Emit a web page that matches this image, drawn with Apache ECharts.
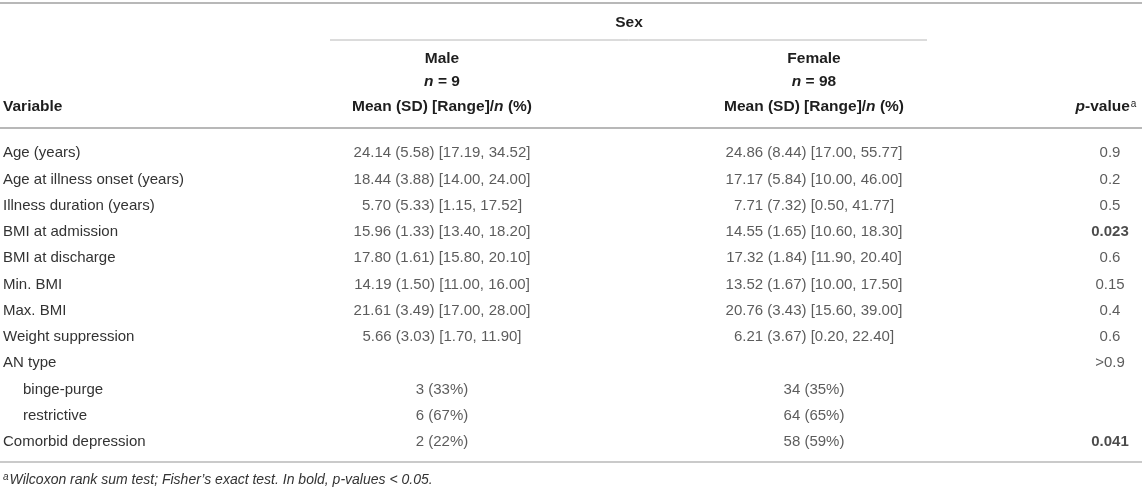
<!DOCTYPE html>
<html>
<head>
<meta charset="utf-8">
<script src="https://cdn.jsdelivr.net/npm/echarts@6/dist/echarts.min.js"></script>
<style>
  html, body { margin: 0; padding: 0; background: #fff; }
  #chart { width: 1142px; height: 490px; }
</style>
</head>
<body>
<div id="chart"></div>
<script>
// table content
const variables = [
    "Age (years)", "Age at illness onset (years)", "Illness duration (years)",
    "BMI at admission", "BMI at discharge", "Min. BMI", "Max. BMI",
    "Weight suppression", "AN type", "binge-purge", "restrictive",
    "Comorbid depression"
];
const subRows = ["binge-purge", "restrictive"];
const maleVals = [
    "24.14 (5.58) [17.19, 34.52]", "18.44 (3.88) [14.00, 24.00]", "5.70 (5.33) [1.15, 17.52]",
    "15.96 (1.33) [13.40, 18.20]", "17.80 (1.61) [15.80, 20.10]", "14.19 (1.50) [11.00, 16.00]",
    "21.61 (3.49) [17.00, 28.00]", "5.66 (3.03) [1.70, 11.90]", "", "3 (33%)", "6 (67%)", "2 (22%)"
];
const femaleVals = [
    "24.86 (8.44) [17.00, 55.77]", "17.17 (5.84) [10.00, 46.00]", "7.71 (7.32) [0.50, 41.77]",
    "14.55 (1.65) [10.60, 18.30]", "17.32 (1.84) [11.90, 20.40]", "13.52 (1.67) [10.00, 17.50]",
    "20.76 (3.43) [15.60, 39.00]", "6.21 (3.67) [0.20, 22.40]", "", "34 (35%)", "64 (65%)", "58 (59%)"
];
const pVals = ["0.9", "0.2", "0.5", "0.023", "0.6", "0.15", "0.4", "0.6", ">0.9", "", "", "0.041"];
const groupLabels = ["Male", "Female"];
const groupN = [9, 98];
const footnote = "Wilcoxon rank sum test; Fisher\u2019s exact test. In bold, p-values < 0.05.";

const FONT = "'Liberation Sans', Arial, Helvetica, sans-serif";
const TXT = "#333";
const HEAD = "#1e1e1e";
const RULE = "#b8b8b8";
const COL_X = { male: 442, female: 814, p: 1110 };
const HEAD_SIZE = 15.5;

const textSeries = (name, vals, x, boldFn) => ({
    name: name,
    type: "scatter",
    symbol: "circle",
    symbolSize: 1,
    silent: true,
    itemStyle: { color: "rgba(0,0,0,0)" },
    emphasis: { disabled: true },
    data: vals.map((v, i) => v === "" ? null : {
        value: [x, i],
        label: {
            formatter: v,
            fontWeight: boldFn && boldFn(v) ? "bold" : "normal",
            color: boldFn && boldFn(v) ? HEAD : TXT
        }
    }).filter(d => d),
    label: {
        show: true,
        position: "inside",
        fontFamily: FONT,
        fontSize: 15,
        color: TXT
    }
});

const headText = (x, y, text, align, rich) => ({
    type: "text",
    x: x,
    y: y,
    style: {
        text: text,
        align: align,
        verticalAlign: "middle",
        fontFamily: FONT,
        fontSize: HEAD_SIZE,
        fontWeight: "bold",
        fill: HEAD,
        rich: rich
    }
});

const hRule = (x1, x2, y, w) => ({
    type: "line",
    shape: { x1: x1, y1: y, x2: x2, y2: y },
    style: { stroke: RULE, lineWidth: w }
});

const boldRich = {
    i: { fontFamily: FONT, fontSize: HEAD_SIZE, fontWeight: "bold", fontStyle: "italic", fill: HEAD },
    b: { fontFamily: FONT, fontSize: HEAD_SIZE, fontWeight: "bold", fill: HEAD },
    sup: { fontFamily: FONT, fontSize: 10, fontWeight: "normal", fill: HEAD, verticalAlign: "top", padding: [0, 0, 6, 1] }
};

const chart = echarts.init(document.getElementById("chart"));
chart.setOption({
    animation: false,
    backgroundColor: "#fff",
    grid: { left: 0, right: 0, top: 140, bottom: 35, containLabel: false },
    xAxis: { type: "value", min: 0, max: 1142, show: false },
    yAxis: {
        type: "category",
        inverse: true,
        data: variables,
        axisLine: { show: false },
        axisTick: { show: false },
        splitLine: { show: false },
        axisLabel: {
            inside: true,
            margin: 3,
            align: "left",
            fontFamily: FONT,
            fontSize: 15,
            color: TXT,
            formatter: v => subRows.includes(v) ? "{sub|" + v + "}" : v,
            rich: { sub: { fontFamily: FONT, fontSize: 15, color: TXT, padding: [0, 0, 0, 20] } }
        }
    },
    series: [
        textSeries(groupLabels[0], maleVals, COL_X.male),
        textSeries(groupLabels[1], femaleVals, COL_X.female),
        textSeries("p-value", pVals, COL_X.p, v => parseFloat(v) < 0.05)
    ],
    graphic: [
        hRule(0, 1142, 3, 2),
        headText(629, 23, "Sex", "center"),
        hRule(330, 927, 40, 1),
        headText(COL_X.male, 59, groupLabels[0], "center"),
        headText(COL_X.female, 59, groupLabels[1], "center"),
        headText(COL_X.male, 82, "{i|n}{b| = " + groupN[0] + "}", "center", boldRich),
        headText(COL_X.female, 82, "{i|n}{b| = " + groupN[1] + "}", "center", boldRich),
        headText(3, 107, "Variable", "left"),
        headText(COL_X.male, 107, "{b|Mean (SD) [Range]/}{i|n}{b| (%)}", "center", boldRich),
        headText(COL_X.female, 107, "{b|Mean (SD) [Range]/}{i|n}{b| (%)}", "center", boldRich),
        headText(1106, 107, "{i|p}{b|-value}{sup|a}", "center", boldRich),
        hRule(0, 1142, 128, 2),
        hRule(0, 1142, 462, 1.5),
        {
            type: "text",
            x: 3,
            y: 480,
            style: {
                text: "{sup|a}{t|" + footnote + "}",
                verticalAlign: "middle",
                rich: {
                    sup: { fontFamily: FONT, fontSize: 10, fontStyle: "italic", fill: TXT, verticalAlign: "top", padding: [0, 1, 5, 0] },
                    t: { fontFamily: FONT, fontSize: 14, fontStyle: "italic", fill: TXT }
                }
            }
        }
    ]
});
</script>
</body>
</html>
